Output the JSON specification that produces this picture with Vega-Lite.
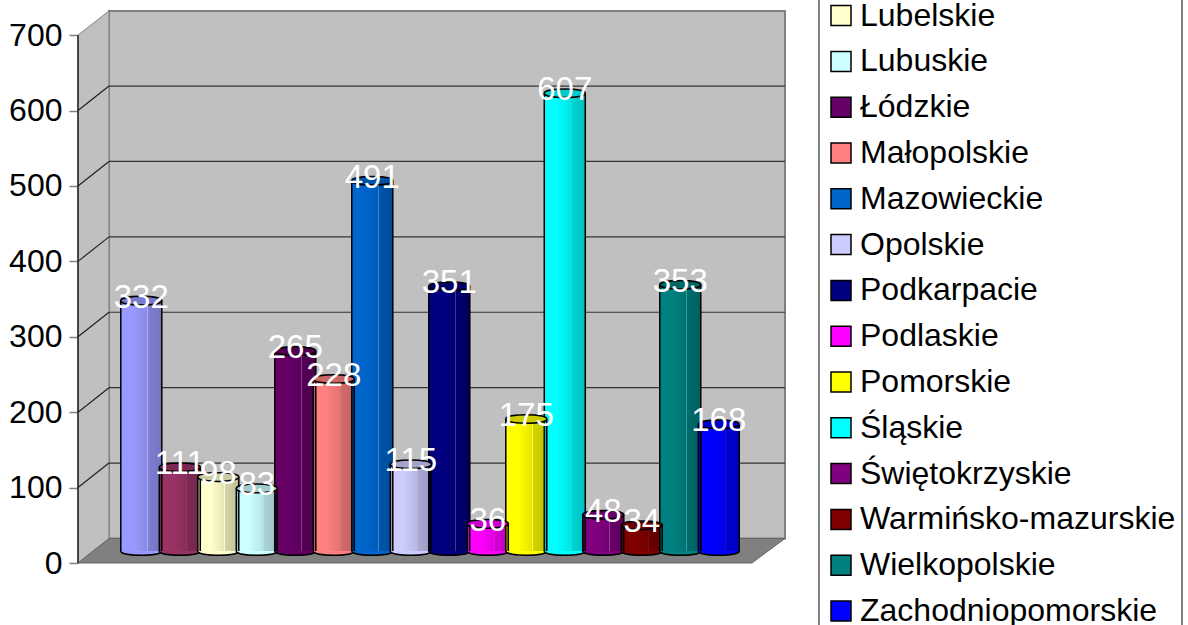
{
"$schema":"https://vega.github.io/schema/vega-lite/v6.json",
"width":707,"height":552,
"autosize":{"type":"none"},
"padding":{"left":78,"top":11,"right":403,"bottom":62},
"background":"white",
"config":{"view":{"stroke":null},"font":"Liberation Sans","legend":{"strokeWidth":2}},
"datasets":{
"woj":[
{"nr":1,"nazwa":"Dolnośląskie","liczba":332},
{"nr":2,"nazwa":"Kujawsko-pomorskie","liczba":111},
{"nr":3,"nazwa":"Lubelskie","liczba":98},
{"nr":4,"nazwa":"Lubuskie","liczba":83},
{"nr":5,"nazwa":"Łódzkie","liczba":265},
{"nr":6,"nazwa":"Małopolskie","liczba":228},
{"nr":7,"nazwa":"Mazowieckie","liczba":491},
{"nr":8,"nazwa":"Opolskie","liczba":115},
{"nr":9,"nazwa":"Podkarpacie","liczba":351},
{"nr":10,"nazwa":"Podlaskie","liczba":36},
{"nr":11,"nazwa":"Pomorskie","liczba":175},
{"nr":12,"nazwa":"Śląskie","liczba":607},
{"nr":13,"nazwa":"Świętokrzyskie","liczba":48},
{"nr":14,"nazwa":"Warmińsko-mazurskie","liczba":34},
{"nr":15,"nazwa":"Wielkopolskie","liczba":353},
{"nr":16,"nazwa":"Zachodniopomorskie","liczba":168}
],
"siatka":[{"v":0},{"v":100},{"v":200},{"v":300},{"v":400},{"v":500},{"v":600},{"v":700}],
"sciana":[{"a":-0.644,"d":0,"g":700},{"a":0.161,"d":32.5,"g":732}],
"tyl":[{"a":0.161,"b":17.72,"d":32.5,"g":732}],
"podloga":[{"a":-0.644,"d":0,"g":0},{"a":0.161,"d":0,"g":32.5},{"a":16.862,"d":0,"g":32.5},{"a":17.72,"d":32.5,"g":32.5}]
},
"layer":[
{"data":{"name":"tyl"},"mark":{"type":"rect","fill":"#C0C0C0","stroke":"#808080","strokeWidth":2},
 "encoding":{"x":{"field":"a","type":"quantitative","scale":{"domain":[-0.644,17.72],"nice":false,"zero":false,"padding":0},"axis":null},"x2":{"field":"b"},
 "y":{"field":"d","type":"quantitative","title":null,"scale":{"domain":[0,732],"nice":false},"axis":{"values":[0,100,200,300,400,500,600,700],"title":null,"grid":false,"domain":false,"tickColor":"#808080","tickWidth":1.5,"tickSize":9,"labelFontSize":32,"labelColor":"#000000","labelFont":"Liberation Sans","labelPadding":7}},"y2":{"field":"g"}}},
{"data":{"name":"sciana"},"mark":{"type":"area","fill":"#C0C0C0","stroke":"#808080","strokeWidth":1},
 "encoding":{"x":{"field":"a","type":"quantitative"},"y":{"field":"d","type":"quantitative","title":null},"y2":{"field":"g"}}},
{"data":{"name":"podloga"},"mark":{"type":"area","fill":"#808080","stroke":"#666666","strokeWidth":1},
 "encoding":{"x":{"field":"a","type":"quantitative"},"y":{"field":"d","type":"quantitative","title":null},"y2":{"field":"g"}}},
{"data":{"name":"siatka"},"transform":[{"filter":"datum.v>0 && datum.v<700"}],"mark":{"type":"rule","color":"#333333","strokeWidth":1.2,"yOffset":-24.5},
 "encoding":{"x":{"datum":0.161,"type":"quantitative"},"x2":{"datum":17.72},"y":{"field":"v","type":"quantitative","title":null}}},
{"data":{"name":"siatka"},"transform":[{"filter":"datum.v>0 && datum.v<700"}],"mark":{"type":"rule","color":"#222222","strokeWidth":1.2,"y2Offset":-24.5},
 "encoding":{"x":{"datum":-0.644,"type":"quantitative"},"x2":{"datum":0.161},"y":{"field":"v","type":"quantitative","title":null},"y2":{"field":"v"}}},
{"mark":{"type":"rule","color":"#222222","strokeWidth":1.5},"data":{"values":[{"od":0,"do":700}]},
 "encoding":{"x":{"datum":-0.644,"type":"quantitative"},"y":{"field":"od","type":"quantitative","title":null},"y2":{"field":"do"}}},
{"data":{"name":"woj"},"mark":{"type":"point","filled":true,"opacity":1,"size":1681,"yOffset":-12,"stroke":"#000000","strokeWidth":1.5,"shape":"M-1,0 C-1,-0.28 1,-0.28 1,0 C1,0.28 -1,0.28 -1,0 Z"},
 "encoding":{"x":{"field":"nr","type":"quantitative"},"y":{"datum":0,"type":"quantitative"},
 "color":{"field":"nazwa","type":"nominal","sort":null,
  "scale":{"domain":["Dolnośląskie","Kujawsko-pomorskie","Lubelskie","Lubuskie","Łódzkie","Małopolskie","Mazowieckie","Opolskie","Podkarpacie","Podlaskie","Pomorskie","Śląskie","Świętokrzyskie","Warmińsko-mazurskie","Wielkopolskie","Zachodniopomorskie"],
   "range":["#9999FF","#993366","#FFFFCC","#CCFFFF","#660066","#FF8080","#0066CC","#CCCCFF","#000080","#FF00FF","#FFFF00","#00FFFF","#800080","#800000","#008080","#0000FF"]},
  "legend":{"title":null,"orient":"none","legendX":741,"legendY":-109,"padding":6,"strokeColor":"#808080","fillColor":"#FFFFFF","symbolType":"square","symbolSize":400,"symbolStrokeColor":"#000000","symbolStrokeWidth":1.5,"symbolOpacity":1,"labelFontSize":32,"labelFont":"Liberation Sans","labelColor":"#000000","labelLimit":500,"labelOffset":27,"rowPadding":13.8,"encode":{"labels":{"update":{"dx":{"value":-24}}}}}}}},
{"data":{"name":"woj"},"mark":{"type":"bar","size":41,"opacity":1,"yOffset":-12,"y2Offset":-12},
 "encoding":{"x":{"field":"nr","type":"quantitative"},"y":{"field":"liczba","type":"quantitative","stack":null,"title":null},"y2":{"datum":0},
 "color":{"field":"nazwa","type":"nominal","sort":null}}},
{"data":{"name":"woj"},"mark":{"type":"bar","size":41,"yOffset":-12,"y2Offset":-12,"fill":{"x1":0,"y1":0,"x2":1,"y2":0,"gradient":"linear","stops":[{"offset":0,"color":"rgba(0,0,0,0)"},{"offset":0.3,"color":"rgba(0,0,0,0)"},{"offset":0.64,"color":"rgba(0,0,0,0.1)"},{"offset":0.65,"color":"rgba(255,255,255,0.25)"},{"offset":0.67,"color":"rgba(0,0,0,0.17)"},{"offset":1,"color":"rgba(0,0,0,0.25)"}]}},
 "encoding":{"x":{"field":"nr","type":"quantitative"},"y":{"field":"liczba","type":"quantitative","stack":null,"title":null},"y2":{"datum":0}}},
{"data":{"name":"woj"},"mark":{"type":"rule","color":"#000000","strokeWidth":1.5,"xOffset":-20.5,"yOffset":-12,"y2Offset":-12},
 "encoding":{"x":{"field":"nr","type":"quantitative"},"y":{"field":"liczba","type":"quantitative","title":null},"y2":{"datum":0}}},
{"data":{"name":"woj"},"mark":{"type":"rule","color":"#000000","strokeWidth":1.5,"xOffset":20.5,"yOffset":-12,"y2Offset":-12},
 "encoding":{"x":{"field":"nr","type":"quantitative"},"y":{"field":"liczba","type":"quantitative","title":null},"y2":{"datum":0}}},
{"data":{"name":"woj"},"mark":{"type":"point","filled":true,"opacity":1,"size":1681,"yOffset":-12,"shape":"M-1,0 C-1,-0.28 1,-0.28 1,0 C1,0.28 -1,0.28 -1,0 Z"},
 "encoding":{"x":{"field":"nr","type":"quantitative"},"y":{"field":"liczba","type":"quantitative","title":null},"color":{"field":"nazwa","type":"nominal","sort":null}}},
{"data":{"name":"woj"},"mark":{"type":"point","filled":true,"opacity":1,"size":1681,"yOffset":-12,"fill":"rgba(0,0,0,0.2)","stroke":"#000000","strokeWidth":1.5,"shape":"M-1,0 C-1,-0.28 1,-0.28 1,0 C1,0.28 -1,0.28 -1,0 Z"},
 "encoding":{"x":{"field":"nr","type":"quantitative"},"y":{"field":"liczba","type":"quantitative","title":null}}},
{"data":{"name":"woj"},"mark":{"type":"text","color":"#FFFFFF","fontSize":33,"font":"Liberation Sans","baseline":"alphabetic","align":"center","dy":-5},
 "encoding":{"x":{"field":"nr","type":"quantitative"},"y":{"field":"liczba","type":"quantitative","title":null},"text":{"field":"liczba","type":"quantitative"}}}
]
}
